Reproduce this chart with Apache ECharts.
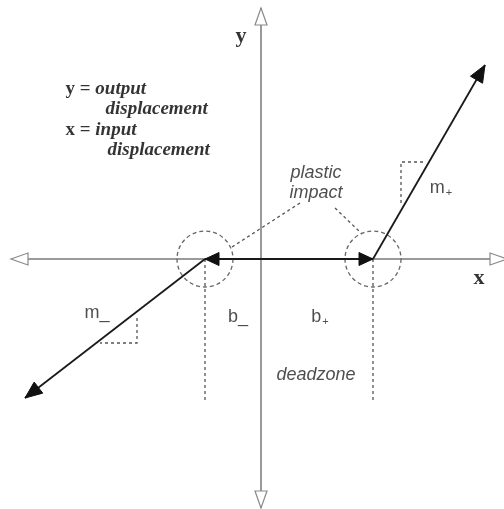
<!DOCTYPE html>
<html>
<head>
<meta charset="utf-8">
<title>deadzone</title>
<script src="https://cdn.jsdelivr.net/npm/echarts@6/dist/echarts.min.js"></script>
<style>
	html, body { margin: 0; padding: 0; background: #fff; }
	#chart { width: 504px; height: 509px; }
</style>
</head>
<body>
<div id="chart"></div>
<script>
	'use strict';

	// diagram units (about 1 px each), origin where the two axes cross
	var xAxisSpan = [-250, 246];
	var yAxisSpan = [-249, 251];
	var breakpoints = [-56, 112];                 // b_ , b+
	var armEnds = [[-236, -139], [224, 194]];     // tips of the m_ and m+ arms
	var deadzoneDepth = -141;
	var impactRadius = 28;
	var slopeMinus = [[-124, -59], [-124, -84], [-161, -84]];
	var slopePlus = [[140, 56], [140, 97], [163, 97]];
	var impactLeaders = [[[-29, 12], [39, 56]], [[74, 51], [101, 25]]];

	// text and where it is anchored
	var labelTexts = ['y', 'x', 'y = output', 'displacement', 'x = input', 'displacement',
		'plastic\nimpact', 'm+', 'm_', 'b_', 'b+', 'deadzone'];
	var labelAnchors = [[-20, 223], [218, -19], [-196, 170], [-156, 150], [-196, 129], [-154, 109],
		[55, 76], [180, 71], [-164, -54], [-23, -58], [59, -58], [55, -116]];
	var labelKinds = ['axis', 'axis', 'defn', 'defnMore', 'defn', 'defnMore',
		'note', 'slope', 'note', 'note', 'slope', 'note'];

	//箭头样式
	var headStyles = [
		{len: 17, half: 6, fill: '#fff', stroke: '#8a8a8a', lw: 1.2},
		{len: 14, half: 6.5, fill: '#111', stroke: '#111', lw: 1},
		{len: 17, half: 7, fill: '#111', stroke: '#111', lw: 1}
	];

	var b0 = breakpoints[0], b1 = breakpoints[1];

	var heads = [
		[xAxisSpan[0], 0, 0, 0, 0],
		[xAxisSpan[1], 0, 0, 0, 0],
		[0, yAxisSpan[1], 0, 0, 0],
		[0, yAxisSpan[0], 0, 0, 0],
		[b0, 0, b1, 0, 1],
		[b1, 0, b0, 0, 1],
		[armEnds[1][0], armEnds[1][1], b1, 0, 2],
		[armEnds[0][0], armEnds[0][1], b0, 0, 2]
	];

	function renderHead(params, api) {
		var tip = api.coord([api.value(0), api.value(1)]);
		var from = api.coord([api.value(2), api.value(3)]);
		var s = headStyles[api.value(4)];
		var dx = tip[0] - from[0], dy = tip[1] - from[1];
		var d = Math.sqrt(dx * dx + dy * dy);
		var ux = dx / d, uy = dy / d;
		var bx = tip[0] - ux * s.len, by = tip[1] - uy * s.len;
		return {
			type: 'polygon',
			shape: {points: [tip, [bx - uy * s.half, by + ux * s.half], [bx + uy * s.half, by - ux * s.half]]},
			style: {fill: s.fill, stroke: s.stroke, lineWidth: s.lw}
		};
	}

	function renderCircle(params, api) {
		var c = api.coord([api.value(0), api.value(1)]);
		var r = api.size([impactRadius, 0])[0];
		return {
			type: 'circle',
			shape: {cx: c[0], cy: c[1], r: r},
			style: {fill: 'none', stroke: '#666', lineWidth: 1.3, lineDash: [4, 3]}
		};
	}

	function richText(text, kind) {
		if (kind === 'defn') {
			var p = text.split('= ');
			return '{b|' + p[0] + '= }{bi|' + p[1] + '}';
		}
		if (kind === 'defnMore') {
			return '{bi|' + text + '}';
		}
		if (kind === 'slope') {
			return '{n|' + text.charAt(0) + '}{sub|' + text.charAt(1) + '}';
		}
		return text;
	}

	var labelData = labelTexts.map(function (t, i) {
		var kind = labelKinds[i];
		var item = {value: labelAnchors[i], label: {formatter: richText(t, kind)}};
		if (kind === 'axis') {
			item.label.fontFamily = 'Liberation Serif';
			item.label.fontWeight = 'bold';
			item.label.fontSize = 22;
			item.label.color = '#000';
		} else if (kind === 'defn' || kind === 'defnMore') {
			item.label.position = 'right';
			item.label.distance = 0;
		} else if (t === 'plastic\nimpact' || t === 'deadzone') {
			item.label.fontStyle = 'italic';
		}
		return item;
	});

	var single = echarts.init(document.getElementById('chart'));

	var option = {
		animation: false,
		backgroundColor: '#fff',
		grid: {left: 0, right: 0, top: 0, bottom: 0},
		xAxis: {type: 'value', show: false, min: -261, max: 243},
		yAxis: {type: 'value', show: false, min: -250, max: 259},
		series: [
			//坐标轴
			{
				type: 'lines',
				coordinateSystem: 'cartesian2d',
				silent: true,
				lineStyle: {color: '#9a9a9a', width: 2, opacity: 1},
				data: [
					{coords: [[xAxisSpan[0], 0], [xAxisSpan[1], 0]]},
					{coords: [[0, yAxisSpan[0]], [0, yAxisSpan[1]]]}
				]
			},
			//虚线
			{
				type: 'lines',
				coordinateSystem: 'cartesian2d',
				polyline: true,
				silent: true,
				lineStyle: {color: '#555', width: 1.3, type: [3, 3], opacity: 1},
				data: [
					{coords: [[b0, 0], [b0, deadzoneDepth]]},
					{coords: [[b1, 0], [b1, deadzoneDepth]]},
					{coords: slopeMinus},
					{coords: slopePlus},
					{coords: impactLeaders[0]},
					{coords: impactLeaders[1]}
				]
			},
			//冲击圆
			{
				type: 'custom',
				silent: true,
				renderItem: renderCircle,
				data: breakpoints.map(function (b) { return [b, 0]; })
			},
			//实线
			{
				type: 'lines',
				coordinateSystem: 'cartesian2d',
				silent: true,
				lineStyle: {color: '#1a1a1a', width: 1.8, opacity: 1},
				data: [
					{coords: [[b0, 0], [b1, 0]]},
					{coords: [[b1, 0], armEnds[1]]},
					{coords: [[b0, 0], armEnds[0]]}
				]
			},
			//箭头
			{
				type: 'custom',
				silent: true,
				z: 5,
				renderItem: renderHead,
				data: heads
			},
			//文字
			{
				type: 'scatter',
				silent: true,
				symbolSize: 1,
				itemStyle: {color: 'rgba(0,0,0,0)'},
				z: 6,
				label: {
					show: true,
					position: 'inside',
					fontFamily: 'Liberation Sans',
					fontSize: 18,
					lineHeight: 20,
					color: '#222',
					rich: {
						b: {fontFamily: 'Liberation Serif', fontWeight: 'bold', fontSize: 19, color: '#000'},
						bi: {fontFamily: 'Liberation Serif', fontWeight: 'bold', fontStyle: 'italic', fontSize: 19, color: '#000'},
						n: {fontFamily: 'Liberation Sans', fontSize: 18, color: '#222', lineHeight: 20},
						sub: {fontFamily: 'Liberation Sans', fontSize: 11, color: '#222', verticalAlign: 'bottom', lineHeight: 12, padding: [0, 0, 0, 1]}
					}
				},
				data: labelData
			}
		]
	};

	single.setOption(option);
</script>
</body>
</html>
